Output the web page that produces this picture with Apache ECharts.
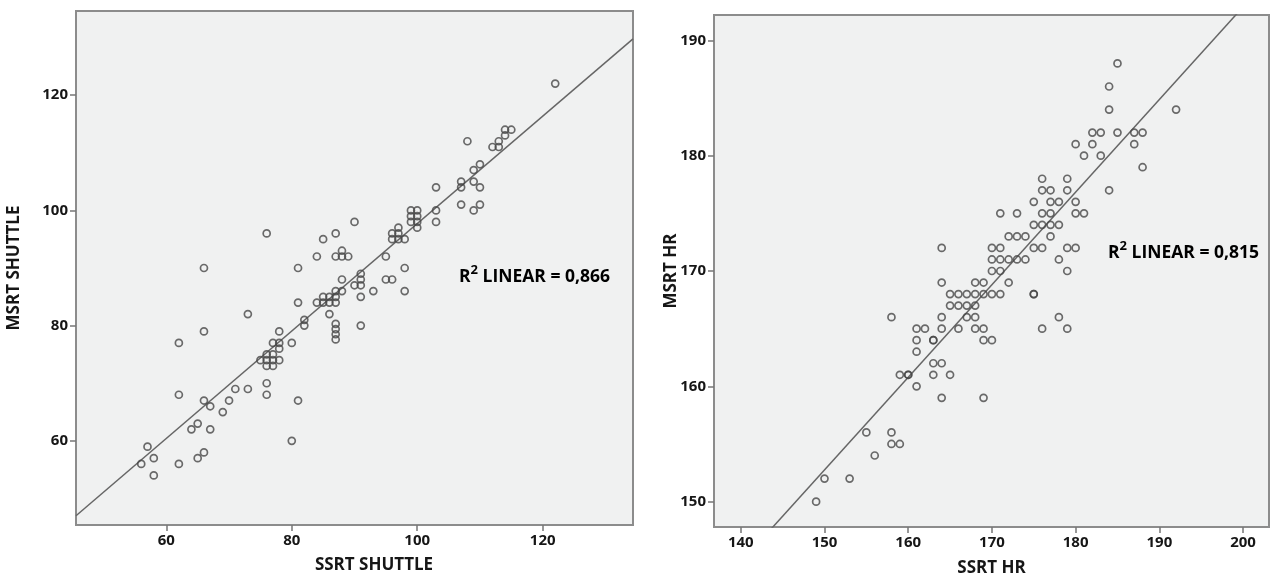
<!DOCTYPE html>
<html>
<head>
<meta charset="utf-8">
<script src="https://cdn.jsdelivr.net/npm/echarts@6/dist/echarts.min.js"></script>
<style>
  html, body { margin: 0; padding: 0; background: #fff; }
  #chart { width: 1275px; height: 582px; }
</style>
</head>
<body>
<div id="chart"></div>
<script>
// shuttle test: SSRT (x) vs MSRT (y)
var shuttleSSRT = [122, 108, 114, 115, 113, 112, 113, 114, 110, 109, 107, 107, 109, 110, 103, 103, 103, 107, 110, 109,
  99, 100, 99, 100, 99, 100, 100, 97, 96, 97, 96, 97, 98, 76, 90, 85, 87, 84, 87, 88, 89, 88, 81, 66,
  81, 91, 91, 88, 90, 91, 91, 93, 95, 98, 95, 96, 98, 91, 87, 87, 87, 87, 86,
  85, 86, 87, 85, 86, 87, 84, 87, 88,
  82, 82, 78, 77, 78, 80, 78, 76, 77, 75, 76, 77, 78, 76, 77,
  76, 76, 73, 66, 62, 81, 73, 71, 70, 69, 66, 67, 62, 65, 64, 67, 80, 57, 56, 58, 58, 62, 65, 66];
var shuttleMSRT = [122, 112, 114, 114, 112, 111, 111, 113, 108, 107, 105, 104, 105, 104, 104, 100, 98, 101, 101, 100,
  100, 100, 99, 99, 98, 98, 97, 97, 96, 96, 95, 95, 95, 96, 98, 95, 96, 92, 92, 92, 92, 93, 90, 90,
  84, 89, 88, 88, 87, 87, 85, 86, 92, 90, 88, 88, 86, 80, 80.3, 79.4, 78.5, 77.6, 82,
  85, 85, 85, 84, 84, 84, 84, 86, 86,
  81, 80, 79, 77, 77, 77, 76, 75, 75, 74, 74, 74, 74, 73, 73,
  70, 68, 82, 79, 77, 67, 69, 69, 67, 65, 67, 66, 68, 63, 62, 62, 60, 59, 56, 57, 54, 56, 57, 58];

// heart rate: SSRT HR (x) vs MSRT HR (y)
var hrSSRT = [185, 184, 184, 192, 182, 183, 185, 187, 188, 180, 182, 187, 181, 183, 188,
  176, 179, 176, 177, 179, 184, 175, 177, 178, 180, 171, 173, 176, 177, 180, 181,
  175, 176, 177, 178, 172, 173, 174, 177, 164, 170, 171, 175, 176, 179, 180,
  170, 171, 172, 173, 174, 178, 170, 171, 179, 164, 168, 169, 172,
  165, 166, 167, 168, 169, 170, 171, 175, 175, 165, 166, 167, 168,
  158, 164, 167, 168, 178, 161, 162, 164, 166, 168, 169, 176, 179,
  161, 163, 163, 169, 170, 161, 163, 164, 159, 160, 160, 163, 165, 161, 164, 169,
  155, 158, 158, 159, 156, 150, 153, 149];
var hrMSRT = [188, 186, 184, 184, 182, 182, 182, 182, 182, 181, 181, 181, 180, 180, 179,
  178, 178, 177, 177, 177, 177, 176, 176, 176, 176, 175, 175, 175, 175, 175, 175,
  174, 174, 174, 174, 173, 173, 173, 173, 172, 172, 172, 172, 172, 172, 172,
  171, 171, 171, 171, 171, 171, 170, 170, 170, 169, 169, 169, 169,
  168, 168, 168, 168, 168, 168, 168, 168, 168, 167, 167, 167, 167,
  166, 166, 166, 166, 166, 165, 165, 165, 165, 165, 165, 165, 165,
  164, 164, 164, 164, 164, 163, 162, 162, 161, 161, 161, 161, 161, 160, 159, 159,
  156, 156, 155, 155, 154, 152, 152, 150];

var shuttleTicks = [60, 80, 100, 120];
var hrXTicks = [140, 150, 160, 170, 180, 190, 200];
var hrYTicks = [150, 160, 170, 180, 190];

// fit lines: [intercept, slope]
var shuttleFit = [4.5, 0.932];
var hrFit = [32.3, 0.803];
var shuttleR2 = '0,866';
var hrR2 = '0,815';

var FONT = "'Open Sans', sans-serif";
var INK = '#161616';
var frameColor = '#8c8c8c';

function pairs(xs, ys) {
  return xs.map(function (x, i) { return [x, ys[i]]; });
}
function fitLine(fit, xmin, xmax) {
  return [[xmin, fit[0] + fit[1] * xmin], [xmax, fit[0] + fit[1] * xmax]];
}
function axis(gridIndex, min, max, ticks, name, isY, nameGap, namePad) {
  return {
    type: 'value', gridIndex: gridIndex, min: min, max: max,
    name: name, nameLocation: 'middle', nameGap: nameGap, nameRotate: isY ? 90 : 0,
    nameMoveOverlap: false,
    nameTextStyle: { fontFamily: FONT, fontWeight: 'bold', fontSize: 17, color: INK, padding: namePad || 0 },
    axisLine: { show: true, lineStyle: { color: frameColor, width: 2 } },
    axisTick: { show: true, length: 6, customValues: ticks, lineStyle: { color: '#777', width: 1.5 } },
    axisLabel: { customValues: ticks, margin: 8, fontFamily: FONT, fontWeight: 'bold', fontSize: 15, color: INK },
    splitLine: { show: false }
  };
}
function r2Text(left, top, r2) {
  return {
    type: 'text', left: left, top: top, z: 10,
    style: {
      text: '{r|R}{s|2}{r| LINEAR = ' + r2 + '}',
      rich: {
        r: { fontFamily: FONT, fontWeight: 'bold', fontSize: 17.5, color: INK, lineHeight: 22, verticalAlign: 'bottom' },
        s: { fontFamily: FONT, fontWeight: 'bold', fontSize: 13, color: INK, verticalAlign: 'top' }
      }
    }
  };
}

var chart = echarts.init(document.getElementById('chart'));

var gridStyle = { show: true, backgroundColor: '#f0f1f1', borderColor: frameColor, borderWidth: 2, containLabel: false, outerBoundsMode: 'none' };
var dotStyle = { color: 'rgba(0,0,0,0)', borderColor: '#474747', borderWidth: 1.7 };

var option = {
  animation: false,
  backgroundColor: '#fff',
  grid: [
    Object.assign({ left: 76, top: 11, width: 557, height: 514 }, gridStyle),
    Object.assign({ left: 714, top: 15, width: 555, height: 512 }, gridStyle)
  ],
  xAxis: [
    axis(0, 45.6, 134.4, shuttleTicks, 'SSRT SHUTTLE', false, 32, [0, 0, 0, 39]),
    axis(1, 136.8, 203.1, hrXTicks, 'SSRT HR', false, 33)
  ],
  yAxis: [
    axis(0, 45.4, 134.6, shuttleTicks, 'MSRT SHUTTLE', true, 53),
    axis(1, 147.8, 192.2, hrYTicks, 'MSRT HR', true, 34)
  ],
  series: [
    {
      type: 'line', xAxisIndex: 0, yAxisIndex: 0, data: fitLine(shuttleFit, 45.6, 134.4),
      showSymbol: false, lineStyle: { color: '#666', width: 1.5 }, z: 2, clip: true
    },
    {
      type: 'scatter', xAxisIndex: 0, yAxisIndex: 0, data: pairs(shuttleSSRT, shuttleMSRT),
      symbol: 'circle', symbolSize: 7, itemStyle: dotStyle, z: 3
    },
    {
      type: 'line', xAxisIndex: 1, yAxisIndex: 1, data: fitLine(hrFit, 136.8, 203.1),
      showSymbol: false, lineStyle: { color: '#666', width: 1.5 }, z: 2, clip: true
    },
    {
      type: 'scatter', xAxisIndex: 1, yAxisIndex: 1, data: pairs(hrSSRT, hrMSRT),
      symbol: 'circle', symbolSize: 7, itemStyle: dotStyle, z: 3
    }
  ],
  graphic: [
    r2Text(459, 264, shuttleR2),
    r2Text(1108, 240, hrR2)
  ]
};

chart.setOption(option);
</script>
</body>
</html>
